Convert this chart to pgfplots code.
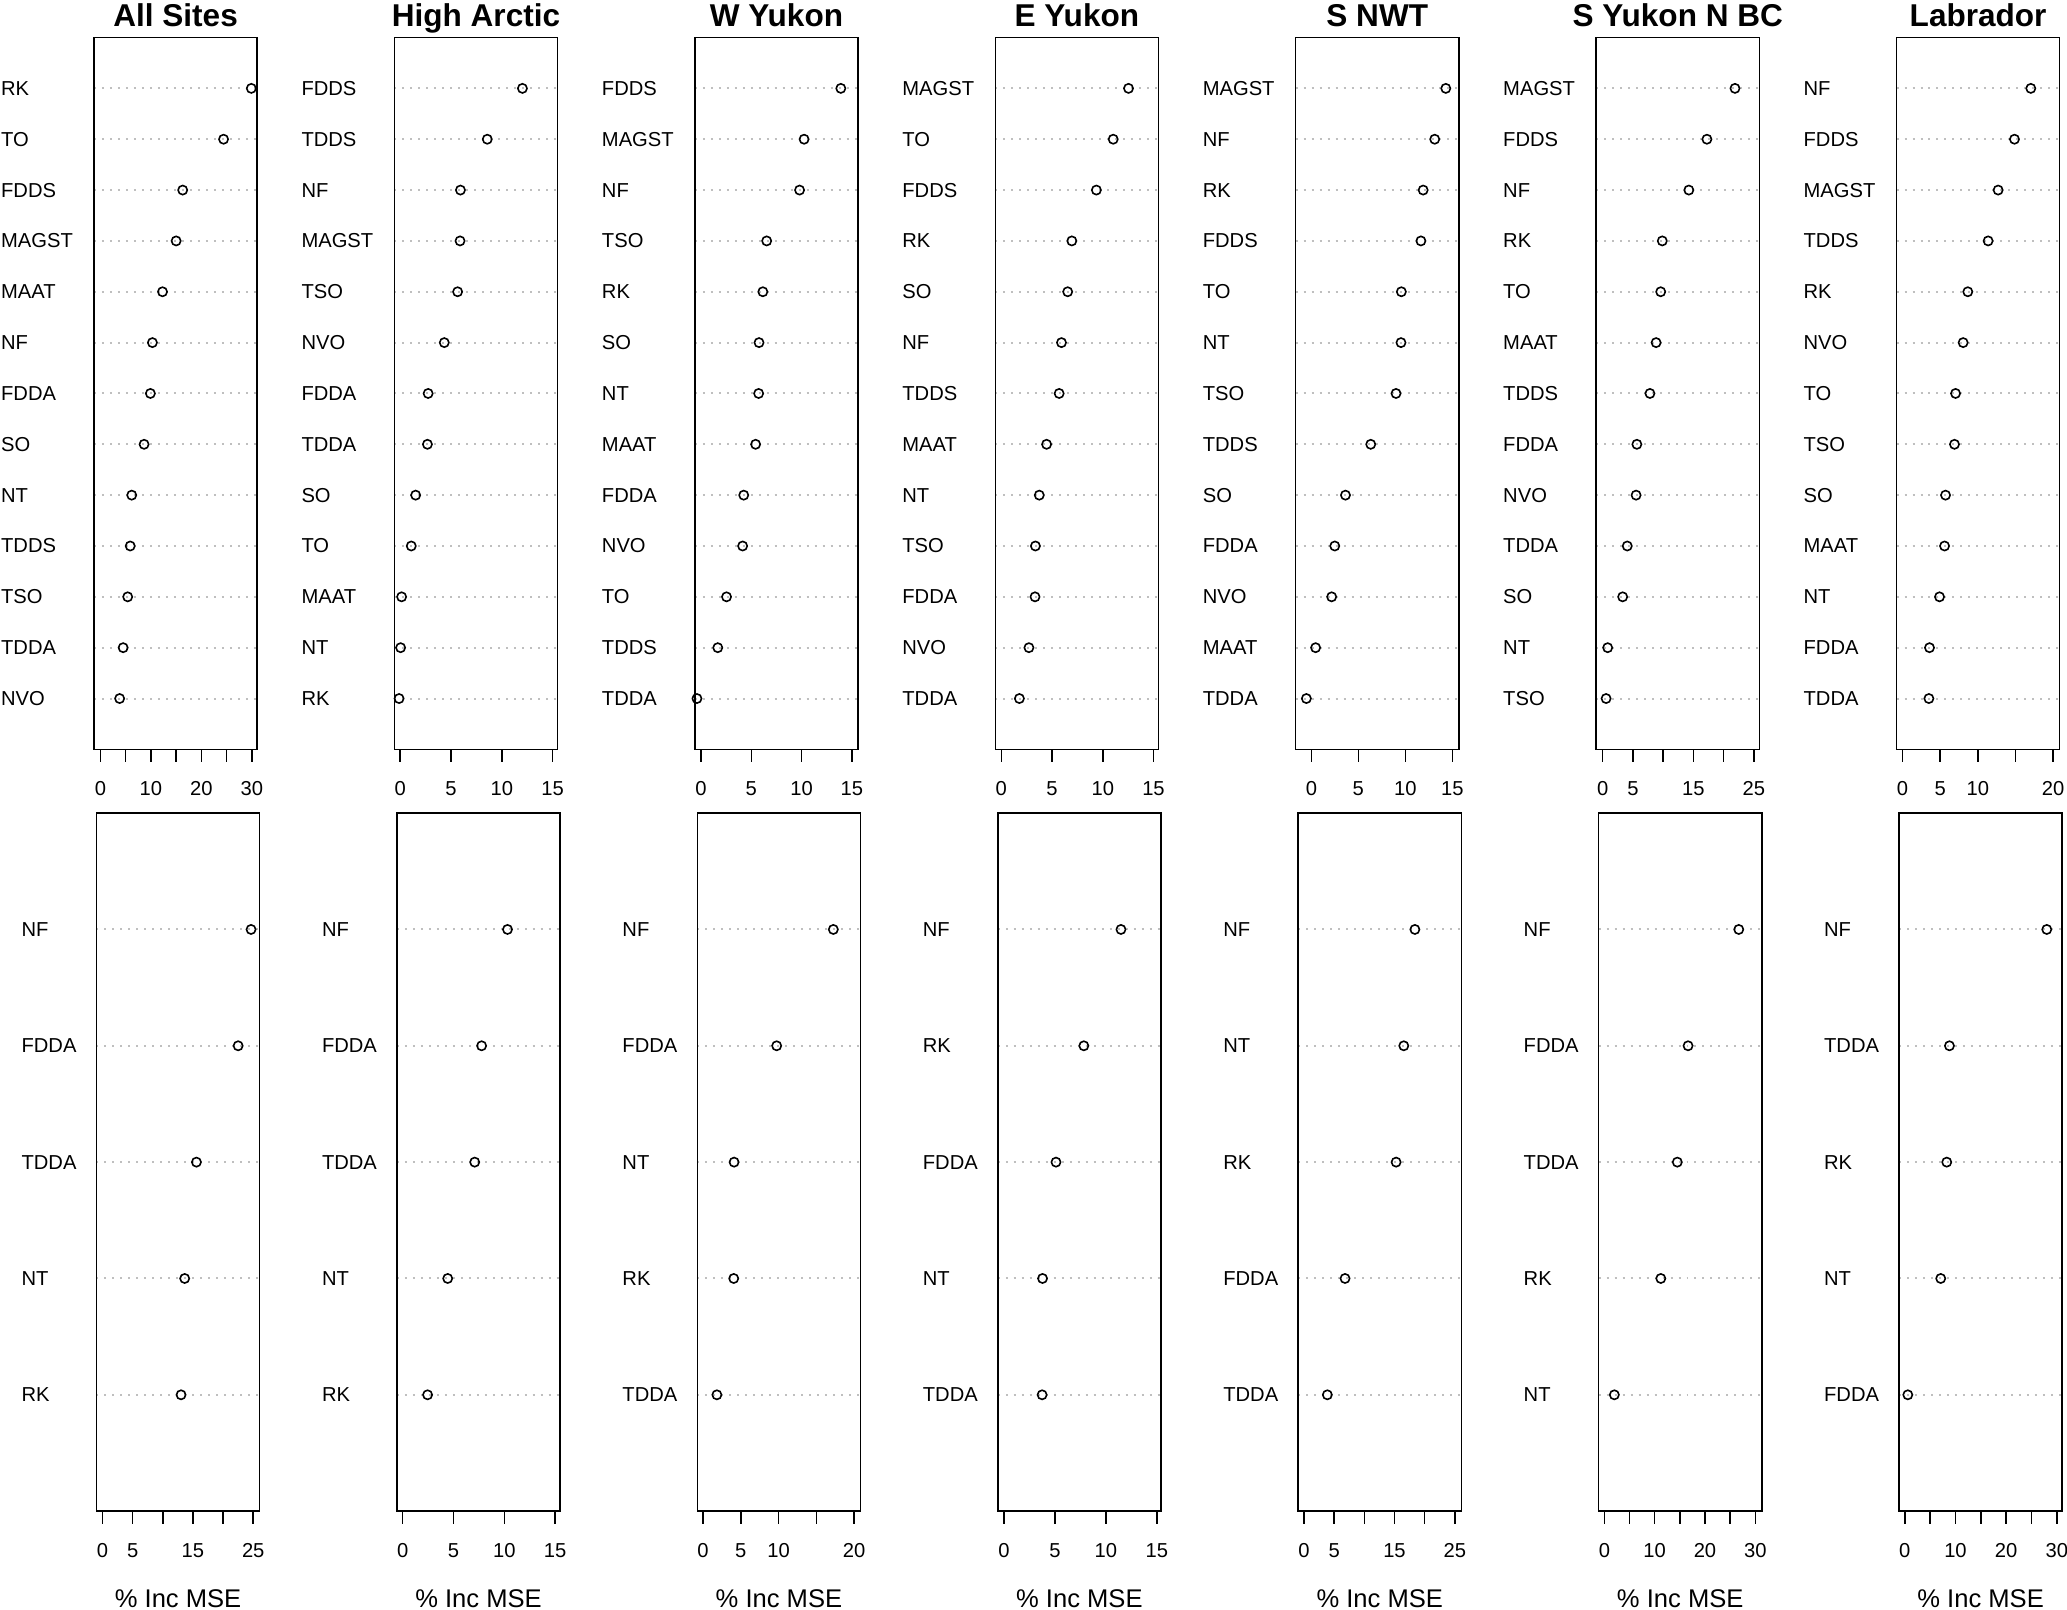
\documentclass[border=0pt]{standalone}
\usepackage{pgfplots}
\pgfplotsset{compat=1.18}
\usepackage{fontspec}
\setmainfont{Liberation Sans}
\begin{document}
\begin{tikzpicture}
\pgfplotsset{
  dot/.style={
    scale only axis, width=81.7pt, anchor=south west,
    axis line style={line width=0.75pt},
    xtick pos=left, ytick pos=left,
    tick align=outside, major tick length=6.3pt,
    xtick style={line width=0.75pt, black},
    ytick style={draw=none},
    ymajorgrids,
    grid style={lightgray, line width=1pt, dash pattern=on 1pt off 3pt},
    /pgf/number format/assume math mode=true,
    tick label style={font=\fontsize{10.1}{12}\selectfont},
    xticklabel style={anchor=base, yshift=-16.8pt},
    yticklabel style={anchor=west, inner xsep=0pt},
    title style={font=\fontsize{15.8}{18}\selectfont\bfseries, at={(0.5,1)}, anchor=base, yshift=-0.4pt},
    xlabel style={font=\fontsize{12.8}{15}\selectfont, at={(axis description cs:0.5,0)}, anchor=base, yshift=-48pt},
  },
  toprow/.style={dot, height=356.4pt, ymin=0, ymax=14, ytick={1,...,13}, yticklabel style={xshift=-40.4pt}},
  botrow/.style={dot, height=349.5pt, ymin=0, ymax=6, ytick={1,...,5}, yticklabel style={xshift=-31.4pt}, xlabel={\% Inc MSE}},
  dots/.style={only marks, mark=o, mark size=2.3pt, mark options={line width=0.8pt}, black},
}
\path[use as bounding box] (0,0) rectangle (1034.9pt,805.6pt);

% ---- top row ----
\begin{axis}[toprow, at={(47.06pt,430.4pt)}, title={All Sites},
  xmin=-1.28, xmax=31.06, xtick={0,5,...,30}, xticklabels={0,,10,,20,,30},
  yticklabels={NVO,TDDA,TSO,TDDS,NT,SO,FDDA,NF,MAAT,MAGST,FDDS,TO,RK}]
\addplot[dots] coordinates {(29.9,13)(24.4,12)(16.3,11)(15.0,10)(12.3,9)(10.3,8)(9.9,7)(8.65,6)(6.2,5)(5.9,4)(5.4,3)(4.5,2)(3.8,1)};
\end{axis}

\begin{axis}[toprow, at={(197.47pt,430.4pt)}, title={High Arctic},
  xmin=-0.57, xmax=15.49, xtick={0,5,10,15},
  yticklabels={RK,NT,MAAT,TO,SO,TDDA,FDDA,NVO,TSO,MAGST,NF,TDDS,FDDS}]
\addplot[dots] coordinates {(12.03,13)(8.57,12)(5.93,11)(5.89,10)(5.65,9)(4.34,8)(2.75,7)(2.68,6)(1.52,5)(1.09,4)(0.14,3)(0.04,2)(-0.11,1)};
\end{axis}

\begin{axis}[toprow, at={(347.89pt,430.4pt)}, title={W Yukon},
  xmin=-0.61, xmax=15.61, xtick={0,5,10,15},
  yticklabels={TDDA,TDDS,TO,NVO,FDDA,MAAT,NT,SO,RK,TSO,NF,MAGST,FDDS}]
\addplot[dots] coordinates {(13.9,13)(10.25,12)(9.8,11)(6.53,10)(6.15,9)(5.77,8)(5.73,7)(5.43,6)(4.25,5)(4.14,4)(2.54,3)(1.67,2)(-0.4,1)};
\end{axis}

\begin{axis}[toprow, at={(498.30pt,430.4pt)}, title={E Yukon},
  xmin=-0.6, xmax=15.49, xtick={0,5,10,15},
  yticklabels={TDDA,NVO,FDDA,TSO,NT,MAAT,TDDS,NF,SO,RK,FDDS,TO,MAGST}]
\addplot[dots] coordinates {(12.54,13)(11.03,12)(9.37,11)(6.95,10)(6.54,9)(5.93,8)(5.70,7)(4.46,6)(3.74,5)(3.36,4)(3.32,3)(2.72,2)(1.78,1)};
\end{axis}

\begin{axis}[toprow, at={(648.71pt,430.4pt)}, title={S NWT},
  xmin=-1.67, xmax=15.7, xtick={0,5,10,15},
  yticklabels={TDDA,MAAT,NVO,FDDA,SO,TDDS,TSO,NT,TO,FDDS,RK,NF,MAGST}]
\addplot[dots] coordinates {(14.31,13)(13.13,12)(11.9,11)(11.66,10)(9.58,9)(9.54,8)(9.01,7)(6.32,6)(3.63,5)(2.49,4)(2.16,3)(0.45,2)(-0.53,1)};
\end{axis}

\begin{axis}[toprow, at={(799.13pt,430.4pt)}, title={S Yukon N BC},
  xmin=-1.08, xmax=25.9, xtick={0,5,...,25}, xticklabels={0,5,,15,,25},
  yticklabels={TSO,NT,SO,TDDA,NVO,FDDA,TDDS,MAAT,TO,RK,NF,FDDS,MAGST}]
\addplot[dots] coordinates {(21.88,13)(17.24,12)(14.25,11)(9.86,10)(9.6,9)(8.84,8)(7.82,7)(5.66,6)(5.53,5)(4.07,4)(3.31,3)(0.83,2)(0.57,1)};
\end{axis}

\begin{axis}[toprow, at={(949.54pt,430.4pt)}, title={Labrador},
  xmin=-0.8, xmax=20.88, xtick={0,5,...,20}, xticklabels={0,5,10,,20},
  yticklabels={TDDA,FDDA,NT,MAAT,SO,TSO,TO,NVO,RK,TDDS,MAGST,FDDS,NF}]
\addplot[dots] coordinates {(17.04,13)(14.87,12)(12.7,11)(11.37,10)(8.67,9)(8.05,8)(7.04,7)(6.9,6)(5.71,5)(5.58,4)(4.91,3)(3.58,2)(3.5,1)};
\end{axis}

% ---- bottom row ----
\begin{axis}[botrow, at={(48.31pt,49.0pt)},
  xmin=-1.0, xmax=26.07, xtick={0,5,...,25}, xticklabels={0,5,,15,,25},
  yticklabels={RK,NT,TDDA,FDDA,NF}]
\addplot[dots] coordinates {(24.64,5)(22.5,4)(15.58,3)(13.63,2)(13.03,1)};
\end{axis}

\begin{axis}[botrow, at={(198.73pt,49.0pt)},
  xmin=-0.57, xmax=15.5, xtick={0,5,10,15},
  yticklabels={RK,NT,TDDA,FDDA,NF}]
\addplot[dots] coordinates {(10.32,5)(7.77,4)(7.09,3)(4.43,2)(2.45,1)};
\end{axis}

\begin{axis}[botrow, at={(349.14pt,49.0pt)},
  xmin=-0.76, xmax=20.86, xtick={0,5,...,20}, xticklabels={0,5,10,,20},
  yticklabels={TDDA,RK,NT,FDDA,NF}]
\addplot[dots] coordinates {(17.26,5)(9.75,4)(4.11,3)(4.06,2)(1.83,1)};
\end{axis}

\begin{axis}[botrow, at={(499.55pt,49.0pt)},
  xmin=-0.6, xmax=15.4, xtick={0,5,10,15},
  yticklabels={TDDA,NT,FDDA,RK,NF}]
\addplot[dots] coordinates {(11.48,5)(7.84,4)(5.11,3)(3.79,2)(3.75,1)};
\end{axis}

\begin{axis}[botrow, at={(649.97pt,49.0pt)},
  xmin=-0.95, xmax=26.08, xtick={0,5,...,25}, xticklabels={0,5,,15,,25},
  yticklabels={TDDA,FDDA,RK,NT,NF}]
\addplot[dots] coordinates {(18.38,5)(16.54,4)(15.27,3)(6.81,2)(3.88,1)};
\end{axis}

\begin{axis}[botrow, at={(800.38pt,49.0pt)},
  xmin=-1.15, xmax=31.3, xtick={0,5,...,30}, xticklabels={0,,10,,20,,30},
  yticklabels={NT,RK,TDDA,FDDA,NF}]
\addplot[dots] coordinates {(26.72,5)(16.64,4)(14.5,3)(11.22,2)(1.98,1)};
\end{axis}

\begin{axis}[botrow, at={(950.80pt,49.0pt)},
  xmin=-1.13, xmax=31.06, xtick={0,5,...,30}, xticklabels={0,,10,,20,,30},
  yticklabels={FDDA,NT,RK,TDDA,NF}]
\addplot[dots] coordinates {(28.01,5)(8.81,4)(8.28,3)(7.09,2)(0.6,1)};
\end{axis}
\end{tikzpicture}
\end{document}
